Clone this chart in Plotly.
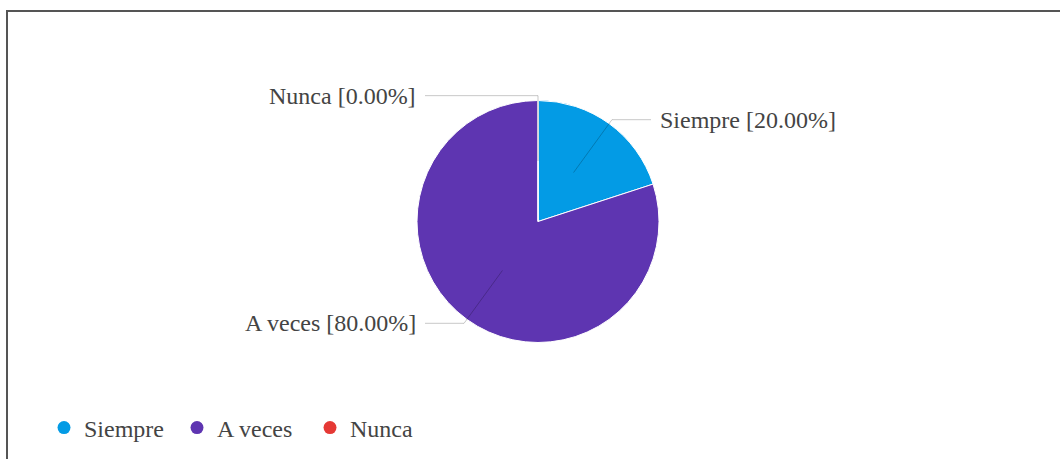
import math
import plotly.graph_objects as go

labels = ["Siempre", "A veces", "Nunca"]
values = [20, 80, 0]
colors = ["#039BE5", "#5E35B1", "#E53935"]

W, H = 1060, 459
cx, cy, R = 538, 221.5, 121
FONT = "Liberation Serif"
TXT = "#444444"
LINE = "rgba(0,0,0,0.22)"


def px(x):
    return x / W


def py(y):
    return 1 - y / H


fig = go.Figure()
fig.add_trace(go.Pie(
    labels=labels, values=values,
    marker=dict(colors=colors, line=dict(color="white", width=1)),
    sort=False, direction="clockwise", rotation=0,
    textinfo="none", hoverinfo="label+percent", showlegend=False,
    domain=dict(x=[px(cx - R), px(cx + R)], y=[py(cy + R), py(cy - R)]),
))

for l, c in zip(labels, colors):
    fig.add_trace(go.Scatter(x=[None], y=[None], mode="markers", name=l,
                             marker=dict(color=c, size=13, symbol="circle")))

total = sum(values)
shapes = []
annotations = []
cum = 0
for l, v in zip(labels, values):
    frac = v / total
    mid = cum + frac / 2
    cum += frac
    th = 2 * math.pi * mid
    s, c = math.sin(th), math.cos(th)
    side = 1 if s > 1e-6 else -1
    x0, y0 = cx + 0.5 * R * s, cy - 0.5 * R * c
    x1, y1 = cx + 1.04 * R * s, cy - 1.04 * R * c
    x2 = cx + side * 113
    shapes.append(dict(type="line", xref="paper", yref="paper",
                       x0=px(x0), y0=py(y0), x1=px(x1), y1=py(y1),
                       line=dict(color=LINE, width=1), layer="above"))
    shapes.append(dict(type="line", xref="paper", yref="paper",
                       x0=px(x1), y0=py(y1), x1=px(x2), y1=py(y1),
                       line=dict(color=LINE, width=1), layer="above"))
    annotations.append(dict(
        text=f"{l} [{frac * 100:.2f}%]", xref="paper", yref="paper",
        x=px(x2 + side * 7), y=py(y1), showarrow=False,
        xanchor="left" if side > 0 else "right", yanchor="middle",
        font=dict(family=FONT, size=24, color=TXT),
    ))

# frame lines
shapes.append(dict(type="line", xref="paper", yref="paper", x0=px(6), x1=1,
                   y0=py(11), y1=py(11), line=dict(color="#555555", width=2)))
shapes.append(dict(type="line", xref="paper", yref="paper", x0=px(7), x1=px(7),
                   y0=py(10), y1=0, line=dict(color="#555555", width=2)))

fig.update_layout(
    width=W, height=H,
    margin=dict(l=0, r=0, t=0, b=0),
    paper_bgcolor="white", plot_bgcolor="white",
    xaxis=dict(visible=False), yaxis=dict(visible=False),
    shapes=shapes, annotations=annotations,
    showlegend=True,
    legend=dict(orientation="h", x=px(44), y=py(428), xanchor="left", yanchor="middle",
                font=dict(family=FONT, size=24, color=TXT), itemclick=False,
                entrywidth=88, entrywidthmode="pixels",
                bgcolor="rgba(0,0,0,0)"),
)

fig.write_html("out.html", config={"displayModeBar": False},
               post_script="document.body.style.margin='0';")
